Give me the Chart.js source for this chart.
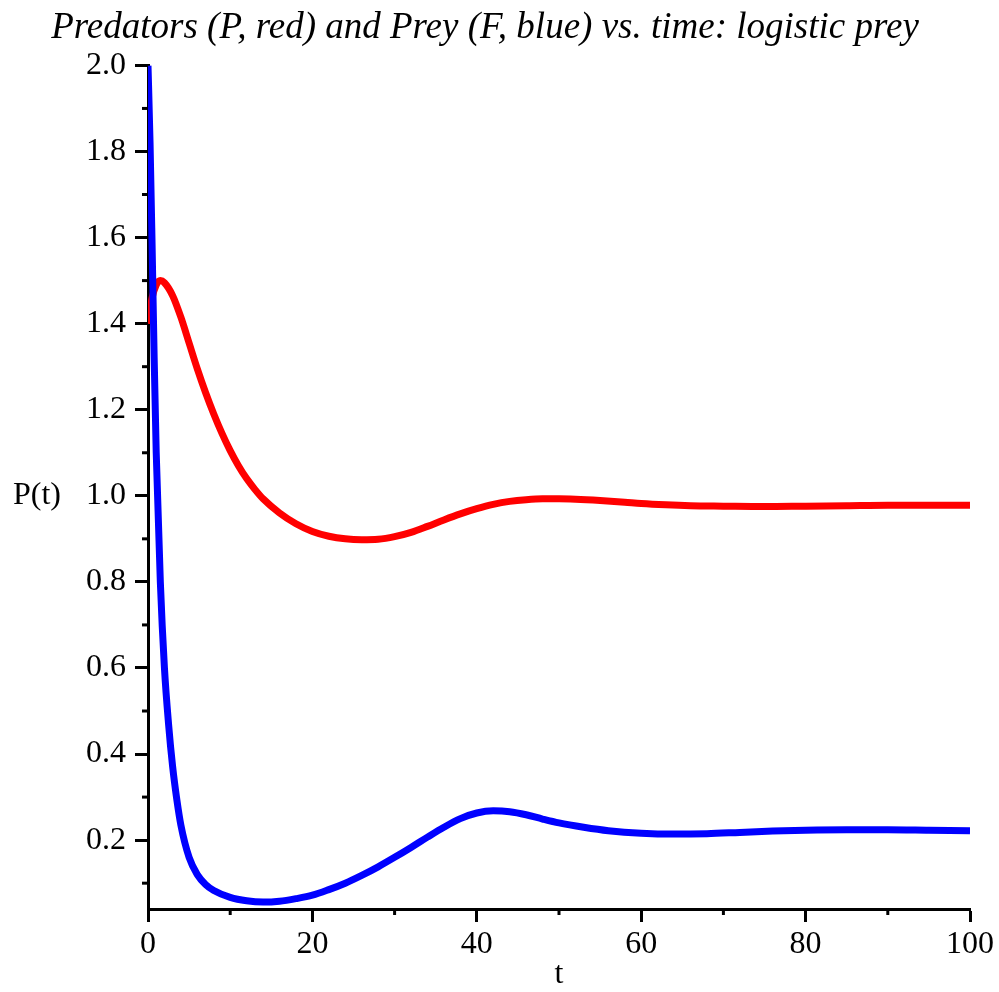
<!DOCTYPE html>
<html>
<head>
<meta charset="utf-8">
<script src="https://cdn.jsdelivr.net/npm/chart.js@4.4.0/dist/chart.umd.min.js"></script>
<style>
    html, body { margin: 0; padding: 0; background: #fff; }
    #wrap { width: 999px; height: 992px; position: relative; }
</style>
</head>
<body>
<div id="wrap"><canvas id="plot"></canvas></div>
<script>
const TITLE = "Predators (P, red) and Prey (F, blue) vs. time: logistic prey";
const X_LABEL = "t";
const Y_LABEL = "P(t)";

// predators P(t), red
const predT = [0, 0.5, 1, 1.5, 2, 3, 4, 5, 6, 7, 8, 9, 10, 11, 12, 13, 14, 16, 18, 20, 22, 24, 26, 28, 30,
    32, 34, 36, 38, 40, 42, 44, 46, 48, 50, 52, 55, 58, 60, 63, 66, 70, 75, 80, 85, 90, 95, 100];
const predP = [1.40, 1.46, 1.49, 1.50, 1.495, 1.465, 1.415, 1.355, 1.295, 1.24, 1.19, 1.145, 1.105, 1.07, 1.04, 1.015, 0.993,
    0.96, 0.935, 0.917, 0.906, 0.90, 0.898, 0.899, 0.905, 0.915, 0.929, 0.944, 0.958, 0.97, 0.98, 0.987, 0.991, 0.993,
    0.993, 0.992, 0.989, 0.985, 0.982, 0.979, 0.977, 0.976, 0.975, 0.976, 0.977, 0.978, 0.978, 0.978];

// prey F(t), blue
const preyT = [0, 0.25, 0.5, 0.75, 1, 1.5, 2, 2.5, 3, 3.5, 4, 5, 6, 7, 8, 10, 12, 14, 16, 18, 20, 22, 24, 26, 28,
    30, 32, 34, 36, 38, 40, 42, 44, 46, 48, 50, 53, 56, 60, 64, 68, 72, 76, 80, 85, 90, 95, 100];
const preyF = [2.0, 1.82, 1.58, 1.32, 1.1, 0.8, 0.6, 0.47, 0.37, 0.295, 0.235, 0.16, 0.12, 0.097, 0.083, 0.067, 0.059, 0.056,
    0.058, 0.064, 0.072, 0.085, 0.10, 0.118, 0.138, 0.16, 0.183, 0.207, 0.23, 0.25, 0.263, 0.268, 0.266, 0.259,
    0.249, 0.24, 0.23, 0.222, 0.216, 0.214, 0.215, 0.218, 0.221, 0.223, 0.224, 0.224, 0.223, 0.222];

const FONT = "Liberation Serif";

function isMajor(v, step) {
    return Math.abs(v / step - Math.round(v / step)) < 1e-6;
}

// minor ticks are shorter than the major ones, so draw those by hand
const minorTicks = {
    id: "minorTicks",
    afterDraw(chart) {
        const { ctx, chartArea, scales } = chart;
        ctx.save();
        ctx.strokeStyle = "#000";
        ctx.lineWidth = 3;
        scales.x.ticks.forEach(t => {
            if (isMajor(t.value, 20)) return;
            const px = scales.x.getPixelForValue(t.value);
            ctx.beginPath();
            ctx.moveTo(px, chartArea.bottom);
            ctx.lineTo(px, chartArea.bottom + 6);
            ctx.stroke();
        });
        scales.y.ticks.forEach(t => {
            if (isMajor(t.value, 0.2)) return;
            const py = scales.y.getPixelForValue(t.value);
            ctx.beginPath();
            ctx.moveTo(chartArea.left, py);
            ctx.lineTo(chartArea.left - 6, py);
            ctx.stroke();
        });
        // axis names, horizontal like the original
        ctx.fillStyle = "#000";
        ctx.font = "32px " + FONT;
        ctx.textAlign = "center";
        ctx.textBaseline = "middle";
        ctx.fillText(Y_LABEL, 37, scales.y.getPixelForValue(1.0));
        ctx.fillText(X_LABEL, (chartArea.left + chartArea.right) / 2, 975);
        ctx.restore();
    },
};

const ctx = document.getElementById("plot");

new Chart(ctx, {
    type: "line",
    data: {
        datasets: [
            {
                label: "F",
                data: preyT.map((t, i) => ({ x: t, y: preyF[i] })),
                borderColor: "#0000ff",
                borderWidth: 7,
                pointRadius: 0,
                cubicInterpolationMode: "monotone",
                fill: false,
            },
            {
                label: "P",
                data: predT.map((t, i) => ({ x: t, y: predP[i] })),
                borderColor: "#ff0000",
                borderWidth: 7,
                pointRadius: 0,
                cubicInterpolationMode: "monotone",
                fill: false,
            },
        ],
    },
    options: {
        responsive: true,
        maintainAspectRatio: false,
        animation: false,
        layout: { padding: { left: 0, right: 29, top: 0, bottom: 0 } },
        plugins: {
            legend: { display: false },
            tooltip: { enabled: false },
            title: {
                display: true,
                text: TITLE,
                color: "#000",
                font: { family: FONT, size: 37, style: "italic", weight: "normal" },
                padding: { top: 6, bottom: 15 },
            },
        },
        scales: {
            x: {
                type: "linear",
                min: 0,
                max: 100,
                z: 1,
                afterFit: s => { s.height = 83; },
                border: { display: true, color: "#000", width: 3 },
                grid: {
                    drawOnChartArea: false,
                    tickLength: 13,
                    tickWidth: 3,
                    tickColor: c => isMajor(c.tick.value, 20) ? "#000" : "rgba(0,0,0,0)",
                },
                ticks: {
                    stepSize: 10,
                    padding: 3,
                    color: "#000",
                    font: { family: FONT, size: 32 },
                    maxRotation: 0,
                    autoSkip: false,
                    callback: v => isMajor(v, 20) ? String(v) : "",
                },
            },
            y: {
                type: "linear",
                min: 0.04,
                max: 2.0,
                z: 1,
                afterFit: s => { s.width = 148; },
                border: { display: true, color: "#000", width: 3 },
                grid: {
                    drawOnChartArea: false,
                    tickLength: 13,
                    tickWidth: 3,
                    tickColor: c => isMajor(c.tick.value, 0.2) ? "#000" : "rgba(0,0,0,0)",
                },
                ticks: {
                    stepSize: 0.1,
                    padding: 9,
                    color: "#000",
                    font: { family: FONT, size: 32 },
                    autoSkip: false,
                    callback: v => isMajor(v, 0.2) ? v.toFixed(1) : "",
                },
                afterBuildTicks: s => {
                    s.ticks = [];
                    for (let k = 1; k <= 20; k++) s.ticks.push({ value: k / 10 });
                },
            },
        },
    },
    plugins: [minorTicks],
});
</script>
</body>
</html>
